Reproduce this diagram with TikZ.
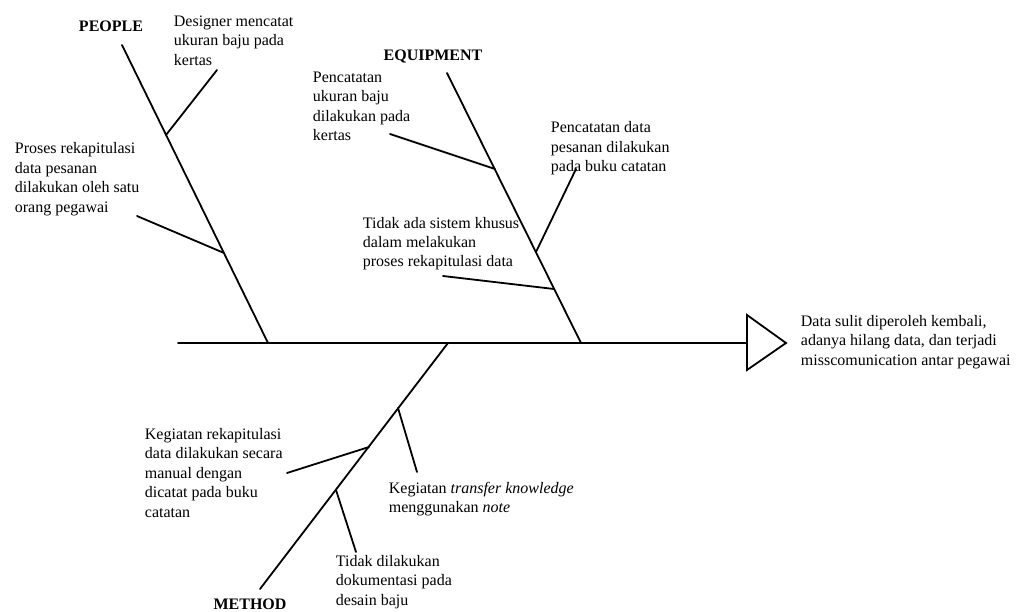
\documentclass[tikz,border=0pt]{standalone}
\usepackage{fontspec}
\setmainfont{Liberation Serif}

\begin{document}
\begin{tikzpicture}[x=1pt,y=-1pt,line width=1.8pt,line cap=round,
  lbl/.style={anchor=north west,inner sep=0pt,align=left,font=\fontsize{16}{19.5}\selectfont},
  hd/.style={anchor=base,inner sep=0pt,font=\bfseries\fontsize{16}{19.5}\selectfont}]
\useasboundingbox (0,0) rectangle (1018,612);
% spine and head
\coordinate (tail) at (178,343);
\coordinate (head) at (747,343);
\coordinate (htop) at (747,315);
\coordinate (htip) at (786,343);
\coordinate (hbot) at (747,370);
\draw (tail) -- (head);
\draw (htop) -- (htip) -- (hbot) -- cycle;
% people
\coordinate (pplA) at (122,45);
\coordinate (pplB) at (268,343);
\coordinate (ppl1) at (166,135);
\coordinate (ppl1e) at (217,70);
\coordinate (ppl2) at (224,253);
\coordinate (ppl2e) at (137,216);
\draw (pplA) -- (pplB);
\draw (ppl1e) -- (ppl1);
\draw (ppl2e) -- (ppl2);
% equipment
\coordinate (eqA) at (447,73);
\coordinate (eqB) at (581,343);
\coordinate (eq1) at (495,169);
\coordinate (eq1e) at (390,134);
\coordinate (eq2) at (536,252);
\coordinate (eq2e) at (576,169);
\coordinate (eq3) at (554,289);
\coordinate (eq3e) at (443,276);
\draw (eqA) -- (eqB);
\draw (eq1e) -- (eq1);
\draw (eq2e) -- (eq2);
\draw (eq3e) -- (eq3);
% method
\coordinate (mtA) at (448,343);
\coordinate (mtB) at (260,589);
\coordinate (mt1) at (398,408);
\coordinate (mt1e) at (417,472);
\coordinate (mt2) at (369,447);
\coordinate (mt2e) at (287,473);
\coordinate (mt3) at (336,490);
\coordinate (mt3e) at (356,552);
\draw (mtA) -- (mtB);
\draw (mt1) -- (mt1e);
\draw (mt2e) -- (mt2);
\draw (mt3) -- (mt3e);
% headings
\node[hd] (people) at (111,32) {PEOPLE};
\node[hd] (equip) at (433,61) {EQUIPMENT};
\node[hd] (method) at (250,609) {METHOD};
% labels
\node[lbl] (des) at (173,15) {Designer mencatat\\ukuran baju pada\\kertas};
\node[lbl] (pros) at (14,142) {Proses rekapitulasi\\data pesanan\\dilakukan oleh satu\\orang pegawai};
\node[lbl] (pen1) at (312,71) {Pencatatan\\ukuran baju\\dilakukan pada\\kertas};
\node[lbl] (pen2) at (550,121) {Pencatatan data\\pesanan dilakukan\\pada buku catatan};
\node[lbl] (tdk1) at (362,216) {Tidak ada sistem khusus\\dalam melakukan\\proses rekapitulasi data};
\node[lbl] (eff) at (800,314) {Data sulit diperoleh kembali,\\adanya hilang data, dan terjadi\\misscomunication antar pegawai};
\node[lbl] (keg1) at (144,427) {Kegiatan rekapitulasi\\data dilakukan secara\\manual dengan\\dicatat pada buku\\catatan};
\node[lbl] (keg2) at (388,481) {Kegiatan \textit{transfer knowledge}\\menggunakan \textit{note}};
\node[lbl] (tdk2) at (335,554) {Tidak dilakukan\\dokumentasi pada\\desain baju};
\end{tikzpicture}
\end{document}
